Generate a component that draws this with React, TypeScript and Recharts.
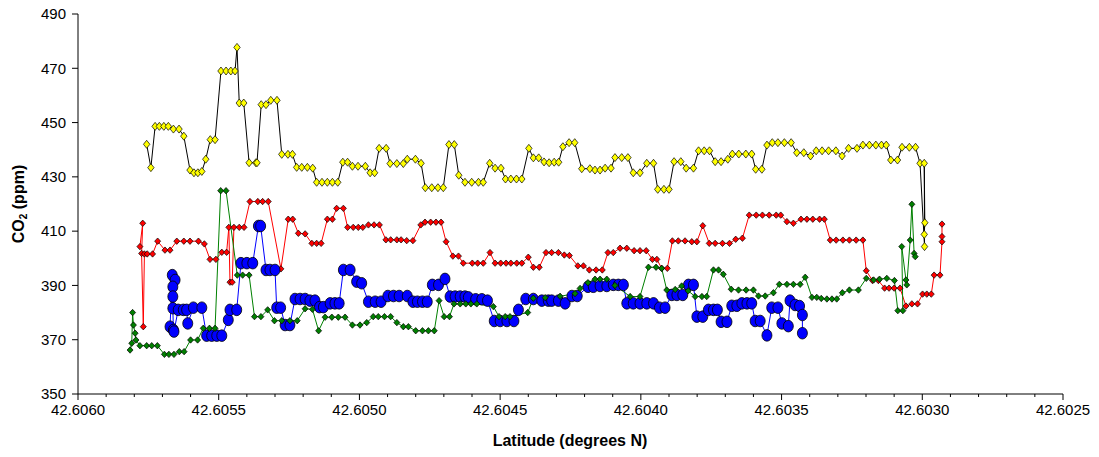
import { LineChart, Line, XAxis, YAxis } from "recharts"

// [latitude, CO2 ppm], in drive order
const yellowPts: [number, number][] = [
  [42.605756, 442], [42.605741, 433.4], [42.605726, 448.6], [42.605711, 448.6], [42.605695, 448.6],
  [42.605679, 448.6], [42.605661, 447.6], [42.605641, 447.6], [42.605624, 445], [42.605602, 432.5],
  [42.605588, 431.5], [42.605574, 431.5], [42.60556, 432], [42.605546, 436.5], [42.60553, 443.7],
  [42.605513, 443.7], [42.605492, 469], [42.605474, 469], [42.605457, 469], [42.605442, 469],
  [42.605435, 477.7], [42.605427, 457.2], [42.605411, 457.2], [42.605392, 435.2], [42.605368, 435.2],
  [42.605364, 435.2], [42.605349, 456.6], [42.605332, 456.6], [42.605315, 458.2], [42.605293, 458.2],
  [42.605276, 438.3], [42.605254, 438.3], [42.605238, 438.3], [42.605223, 433.5], [42.605205, 433.5],
  [42.605185, 433.5], [42.605166, 433.2], [42.605152, 428], [42.605133, 428], [42.605114, 428],
  [42.605096, 428], [42.605077, 428], [42.605059, 435.4], [42.605042, 435.4], [42.605025, 433.9],
  [42.605005, 433.9], [42.604979, 433.9], [42.604962, 431.5], [42.604946, 431.5], [42.60493, 440.5],
  [42.604905, 440.5], [42.604891, 434.9], [42.604867, 434.9], [42.604844, 434.9], [42.60483, 436.5],
  [42.604801, 436.5], [42.604781, 435], [42.604766, 426], [42.604743, 426], [42.604721, 426],
  [42.604702, 426], [42.604682, 441.9], [42.604663, 441.9], [42.604647, 430.6], [42.604625, 428],
  [42.604601, 428], [42.604577, 428], [42.60456, 428], [42.604537, 435], [42.604518, 433.2],
  [42.604497, 433.2], [42.604481, 429.2], [42.604462, 429.2], [42.604442, 429.2], [42.604423, 429.2],
  [42.604398, 440.5], [42.604382, 437], [42.604363, 437], [42.604344, 435.5], [42.604326, 435.2],
  [42.604308, 435.4], [42.604292, 435.4], [42.604277, 441.1], [42.604255, 442.6], [42.604235, 442.6],
  [42.60421, 433], [42.604181, 433], [42.604163, 432.5], [42.604145, 432.5], [42.604127, 433.2],
  [42.604106, 433.2], [42.604092, 437.1], [42.604068, 437.1], [42.604046, 437.1], [42.604027, 431.5],
  [42.604003, 431.5], [42.603979, 435], [42.603955, 435], [42.60394, 425.4], [42.603918, 425.4],
  [42.6039, 425.4], [42.603882, 435.6], [42.603858, 435.6], [42.603839, 433.2], [42.603813, 433.2],
  [42.603795, 439.6], [42.603775, 439.6], [42.603756, 439.6], [42.603736, 435.6], [42.603715, 435.6],
  [42.603691, 436.5], [42.603675, 438.4], [42.603652, 438.4], [42.603627, 438.4], [42.603606, 438.4],
  [42.603592, 432.8], [42.60357, 432.8], [42.603552, 441.7], [42.603533, 442.6], [42.603513, 442.6],
  [42.60349, 442.6], [42.603466, 442.6], [42.603446, 438.9], [42.603421, 438.9], [42.603397, 437.7],
  [42.603377, 439.6], [42.603356, 439.6], [42.603333, 439.6], [42.603307, 439.6], [42.603285, 437.7],
  [42.603262, 440.5], [42.603232, 440.5], [42.603211, 441.7], [42.603188, 441.7], [42.603165, 441.7],
  [42.603145, 441.7], [42.603128, 441.7], [42.603112, 436.2], [42.603088, 436.2], [42.603072, 440.9],
  [42.603046, 440.9], [42.603024, 440.9], [42.603008, 435], [42.602992, 404.3], [42.602993, 435],
  [42.602991, 413.1], [42.602993, 408.8],
]

const redPts: [number, number][] = [
  [42.60578, 404.3], [42.60577, 412.9], [42.605774, 401.8], [42.605768, 374.8], [42.605764, 401.6],
  [42.605754, 401.6], [42.605735, 401.6], [42.605717, 406.3], [42.605691, 403], [42.605673, 403],
  [42.605649, 406.3], [42.605624, 406.3], [42.605602, 406.3], [42.605572, 406.3], [42.605551, 405.3],
  [42.605531, 399.6], [42.60551, 399.6], [42.605489, 402.2], [42.605472, 402.2], [42.605464, 411.4],
  [42.60546, 391.2], [42.605452, 391.2], [42.605446, 411.4], [42.605427, 411.4], [42.60541, 411.4],
  [42.605389, 420.9], [42.605361, 420.9], [42.605344, 420.9], [42.605324, 420.9], [42.605279, 396.1],
  [42.605253, 414.4], [42.605237, 414.4], [42.605217, 409.2], [42.605193, 409], [42.605169, 405.5],
  [42.605152, 405.5], [42.605136, 405.5], [42.605114, 414.4], [42.605096, 414.4], [42.605081, 418.4],
  [42.605057, 418.4], [42.605042, 411.4], [42.605022, 411.4], [42.605004, 411.4], [42.604988, 411.4],
  [42.604968, 412.3], [42.604948, 412.3], [42.604929, 412.3], [42.604906, 406.8], [42.604889, 406.8],
  [42.604867, 406.8], [42.604852, 406.8], [42.604832, 406.5], [42.60481, 406.5], [42.604782, 412.3],
  [42.604767, 413.3], [42.604747, 413.3], [42.604728, 413.3], [42.60471, 413.3], [42.604692, 406.1],
  [42.604668, 400.8], [42.604648, 400.8], [42.604631, 398.2], [42.604599, 398.2], [42.60458, 398.2],
  [42.60456, 398.2], [42.604536, 402.1], [42.604518, 398.2], [42.604498, 398.2], [42.604479, 398.2],
  [42.604462, 398.2], [42.604441, 398.2], [42.604423, 398.2], [42.6044, 400.4], [42.604382, 396.7],
  [42.604361, 396.7], [42.604337, 402.1], [42.604317, 402.1], [42.604293, 402.1], [42.604272, 401.2],
  [42.604254, 401], [42.604224, 397.2], [42.604204, 397.2], [42.604183, 395.7], [42.604159, 395.7],
  [42.604137, 395.7], [42.604117, 402.1], [42.604098, 402.1], [42.604074, 403.7], [42.60405, 403.7],
  [42.604024, 402.8], [42.604003, 402.8], [42.603981, 402.8], [42.603959, 399.6], [42.603943, 399.6],
  [42.603926, 396.3], [42.603906, 396.3], [42.603888, 406.4], [42.603867, 406.4], [42.603843, 406.4],
  [42.603819, 406.1], [42.603801, 406.1], [42.60378, 412], [42.603757, 405.5], [42.603736, 405.5],
  [42.60371, 405.5], [42.603685, 405.5], [42.603663, 407], [42.603639, 407.4], [42.603615, 415.9],
  [42.60359, 415.9], [42.603568, 415.9], [42.603544, 415.9], [42.603519, 415.9], [42.603503, 415.9],
  [42.603481, 413.5], [42.603458, 412.9], [42.603431, 414.4], [42.60341, 414.4], [42.603389, 414.4],
  [42.603365, 414.4], [42.603348, 414.4], [42.603327, 406.7], [42.603306, 406.7], [42.603282, 406.7],
  [42.603259, 406.7], [42.603235, 406.7], [42.603211, 406.7], [42.603199, 395.4], [42.603177, 391.8],
  [42.603156, 391.8], [42.603134, 389], [42.603118, 389], [42.6031, 389], [42.603079, 389],
  [42.603058, 382.4], [42.603037, 383.2], [42.603017, 383.2], [42.602999, 386.8], [42.602984, 386.8],
  [42.602968, 386.8], [42.602958, 393.8], [42.602937, 393.8], [42.60293, 406.1], [42.60293, 408],
  [42.60293, 412.6],
]

const bluePts: [number, number][] = [
  [42.605673, 374.8], [42.605665, 393.8], [42.605655, 392], [42.605663, 389.5], [42.605663, 385.9],
  [42.605663, 381.6], [42.605661, 373.6], [42.605659, 373], [42.605644, 381], [42.605626, 381],
  [42.605614, 381], [42.60561, 376], [42.60559, 381.8], [42.60556, 381.8], [42.605543, 371.5],
  [42.605525, 371.5], [42.605507, 371.5], [42.605489, 371.5], [42.605466, 377.3], [42.60546, 381],
  [42.605436, 381], [42.605421, 398.2], [42.6054, 398.2], [42.605379, 398.2], [42.605359, 411.9],
  [42.605351, 411.9], [42.605332, 395.7], [42.605318, 395.7], [42.6053, 395.7], [42.605294, 381.8],
  [42.60528, 381.8], [42.605264, 375.4], [42.605247, 375.4], [42.605229, 385], [42.605211, 385],
  [42.605193, 385], [42.605176, 384.4], [42.605158, 384.4], [42.605142, 382], [42.605128, 382],
  [42.605104, 383.4], [42.605087, 383.4], [42.605072, 383.4], [42.605057, 395.7], [42.605033, 395.7],
  [42.60501, 391.4], [42.604992, 390.8], [42.604968, 384], [42.604944, 384], [42.604923, 384],
  [42.604899, 386.1], [42.604879, 386.1], [42.604859, 386.1], [42.60483, 386.1], [42.60481, 384],
  [42.604794, 384], [42.604776, 384], [42.604759, 384], [42.604741, 390.2], [42.604719, 390.2],
  [42.604696, 392.4], [42.604678, 385.9], [42.60466, 385.9], [42.604642, 385.9], [42.604625, 385.9],
  [42.604613, 385.6], [42.604587, 384.9], [42.604565, 384.9], [42.604545, 384.4], [42.604521, 376.9],
  [42.6045, 376.9], [42.604476, 376.9], [42.604451, 376.9], [42.604435, 381], [42.604409, 385],
  [42.604382, 385], [42.604352, 384.4], [42.604329, 384.4], [42.604317, 384.4], [42.604293, 384.4],
  [42.604269, 383.4], [42.604245, 386.1], [42.604226, 386.1], [42.604188, 389.5], [42.604169, 389.5],
  [42.604145, 389.8], [42.604121, 389.8], [42.604098, 390.2], [42.60408, 390.2], [42.604062, 390.2],
  [42.60405, 383.4], [42.604027, 383.4], [42.604003, 383.4], [42.603979, 383.4], [42.603955, 383.4],
  [42.603934, 381.8], [42.603914, 381.8], [42.60389, 386.5], [42.603872, 386.5], [42.603851, 386.5],
  [42.603831, 390.2], [42.603813, 390.2], [42.603801, 378.5], [42.60378, 378.5], [42.60376, 381],
  [42.603742, 381], [42.603728, 381], [42.603715, 376.6], [42.603694, 376.6], [42.603677, 382.5],
  [42.603659, 382.5], [42.603641, 383.4], [42.603623, 383.4], [42.603606, 383.4], [42.603594, 376.9],
  [42.603576, 376.9], [42.603552, 371.6], [42.603535, 381.8], [42.603513, 381.8], [42.603499, 376],
  [42.603476, 375], [42.60347, 384.4], [42.603452, 382.8], [42.603436, 382.4], [42.603426, 379.1],
  [42.603426, 372.4],
]

const greenPts: [number, number][] = [
  [42.605815, 366.2], [42.605809, 368.7], [42.605806, 380], [42.605803, 375.4], [42.605797, 372.4],
  [42.605794, 369.9], [42.60578, 367.8], [42.605756, 367.8], [42.605738, 367.8], [42.605718, 367.8],
  [42.605693, 364.6], [42.605677, 364.6], [42.605659, 364.6], [42.60564, 365.6], [42.605623, 365.6],
  [42.6056, 369.9], [42.605575, 369.9], [42.605555, 374.2], [42.605533, 374.2], [42.605513, 374.2],
  [42.605493, 424.9], [42.605474, 424.9], [42.605434, 393.8], [42.605415, 393.8], [42.605392, 393.8],
  [42.605373, 378.5], [42.60535, 378.5], [42.605326, 381], [42.605302, 377], [42.605276, 377],
  [42.605247, 377], [42.605221, 377], [42.605193, 381.4], [42.605167, 381.2], [42.605145, 373.3],
  [42.605122, 378.3], [42.605098, 378.3], [42.605075, 378.3], [42.605051, 378.3], [42.605025, 375.4],
  [42.604998, 375.4], [42.604974, 376.3], [42.604951, 378.5], [42.604933, 378.5], [42.604911, 378.5],
  [42.604889, 378.5], [42.604867, 376.3], [42.604844, 374.8], [42.604826, 374.8], [42.6048, 373.3],
  [42.604776, 373.3], [42.604755, 373.3], [42.604734, 373.3], [42.604717, 384.4], [42.604699, 378.5],
  [42.60468, 378.5], [42.604664, 383.2], [42.604642, 383.2], [42.604622, 383.2], [42.604604, 383.2],
  [42.604583, 383.2], [42.604524, 382.2], [42.604504, 378.5], [42.604482, 378.5], [42.604465, 378.5],
  [42.604402, 380], [42.604382, 385.3], [42.60434, 385.5], [42.604287, 386], [42.604234, 387],
  [42.604216, 388.9], [42.604188, 391], [42.604163, 392.3], [42.604145, 392.3], [42.604121, 392.3],
  [42.604092, 390], [42.604038, 385.9], [42.604003, 385.9], [42.603973, 396.7], [42.603946, 396.7],
  [42.603926, 396.3], [42.603908, 388.3], [42.603878, 388.5], [42.603855, 389.8], [42.603832, 388],
  [42.603807, 385.9], [42.603783, 385.9], [42.603766, 385.9], [42.603742, 395.7], [42.603724, 395.7],
  [42.603707, 394.1], [42.603679, 388.6], [42.603653, 388.3], [42.603626, 388.3], [42.6036, 388.3],
  [42.603582, 386.1], [42.603558, 386.1], [42.603529, 387.3], [42.603508, 390.4], [42.603481, 390.4],
  [42.603458, 390.4], [42.603434, 390.4], [42.603416, 393], [42.603392, 385.6], [42.603375, 385.6],
  [42.603359, 385.2], [42.603339, 385], [42.603321, 385], [42.603304, 385], [42.603284, 387.3],
  [42.603259, 388.3], [42.603227, 388.3], [42.603199, 392.6], [42.603173, 392], [42.603152, 392.3],
  [42.603126, 392.6], [42.603099, 391.8], [42.603087, 380.7], [42.603069, 380.7], [42.603073, 404.3],
  [42.603058, 392], [42.603055, 390.2], [42.603043, 406.7], [42.603037, 419.9], [42.603029, 401.8],
  [42.603025, 400.6],
]

const majorTicks = [42.606, 42.6055, 42.605, 42.6045, 42.604, 42.6035, 42.603, 42.6025]
const yTicks = [350, 370, 390, 410, 430, 450, 470, 490]

const toRows = (pts: [number, number][]) => pts.map(([lat, co2]) => ({ lat, co2 }))

// minor ticks every 0.0001 between the labelled ones
const xTicks: number[] = []
for (let i = 0; i <= 35; i++) xTicks.push(Math.round((42.6025 + i * 0.0001) * 1e6) / 1e6)

const FONT = "'Liberation Sans', Arial, sans-serif"

function isMajor(v: number) {
  return majorTicks.some((m) => Math.abs(m - v) < 1e-7)
}

function XTick(props: any) {
  const { x, y, payload } = props
  const major = isMajor(payload.value)
  return (
    <g>
      <line x1={x} x2={x} y1={y} y2={y + (major ? 6 : 3)} stroke="#000" strokeWidth={1} />
      {major && (
        <text x={x} y={y + 21} textAnchor="middle" fontSize={15} fontFamily={FONT} fill="#000">
          {payload.value.toFixed(4)}
        </text>
      )}
    </g>
  )
}

function Diamond(props: any) {
  const { cx, cy, fill, w = 3, h = 3.5 } = props
  if (cx == null || cy == null) return null
  return (
    <path
      d={`M${cx},${cy - h}L${cx + w},${cy}L${cx},${cy + h}L${cx - w},${cy}Z`}
      fill={fill}
      stroke="#000"
      strokeWidth={0.7}
    />
  )
}

function Circle(props: any) {
  const { cx, cy } = props
  if (cx == null || cy == null) return null
  return <ellipse cx={cx} cy={cy} rx={5} ry={5.8} fill="#0000ff" stroke="#000" strokeWidth={0.8} />
}

const yTitle = () => (
  <text x={0} y={0} transform="translate(24,204) rotate(-90)" textAnchor="middle" fontSize={16} fontWeight="bold" fontFamily={FONT} fill="#000">
    CO<tspan fontSize={10} dy={3}>2</tspan>
    <tspan dy={-3}> (ppm)</tspan>
  </text>
)

const xTitle = () => (
  <text x={570} y={446} textAnchor="middle" fontSize={16} fontWeight="bold" fontFamily={FONT} fill="#000">
    Latitude (degrees N)
  </text>
)

export default function App() {
  return (
    <div style={{ margin: -8, background: "#fff", width: 1099, height: 457 }}>
      <LineChart width={1099} height={457} margin={{ top: 14, right: 36, left: 0, bottom: 0 }}>
        <XAxis
          type="number"
          dataKey="lat"
          domain={[42.6025, 42.606]}
          reversed
          allowDataOverflow
          ticks={xTicks}
          interval={0}
          tick={<XTick />}
          tickLine={false}
          tickSize={0}
          tickMargin={0}
          height={63}
          axisLine={{ stroke: "#000" }}
          label={{ content: xTitle }}
        />
        <YAxis
          type="number"
          domain={[350, 490]}
          ticks={yTicks}
          interval={0}
          width={78}
          tickSize={6}
          tickMargin={6}
          tick={{ fontSize: 15, fontFamily: FONT, fill: "#000" }}
          tickLine={{ stroke: "#000" }}
          axisLine={{ stroke: "#000" }}
          label={{ content: yTitle }}
        />
        <Line
          data={toRows(yellowPts)}
          dataKey="co2"
          stroke="#000"
          strokeWidth={1}
          dot={(p: any) => <Diamond key={`y${p.index}`} {...p} fill="#ffff00" w={3.2} h={4} />}
          activeDot={false}
          isAnimationActive={false}
        />
        <Line
          data={toRows(redPts)}
          dataKey="co2"
          stroke="#ff0000"
          strokeWidth={1}
          dot={(p: any) => <Diamond key={`r${p.index}`} {...p} fill="#ff0000" w={3} h={3.2} />}
          activeDot={false}
          isAnimationActive={false}
        />
        <Line
          data={toRows(bluePts)}
          dataKey="co2"
          stroke="#0000ff"
          strokeWidth={1}
          dot={(p: any) => <Circle key={`b${p.index}`} {...p} />}
          activeDot={false}
          isAnimationActive={false}
        />
        <Line
          data={toRows(greenPts)}
          dataKey="co2"
          stroke="#008000"
          strokeWidth={1}
          dot={(p: any) => <Diamond key={`g${p.index}`} {...p} fill="#008000" w={3} h={3.2} />}
          activeDot={false}
          isAnimationActive={false}
        />
      </LineChart>
    </div>
  )
}
